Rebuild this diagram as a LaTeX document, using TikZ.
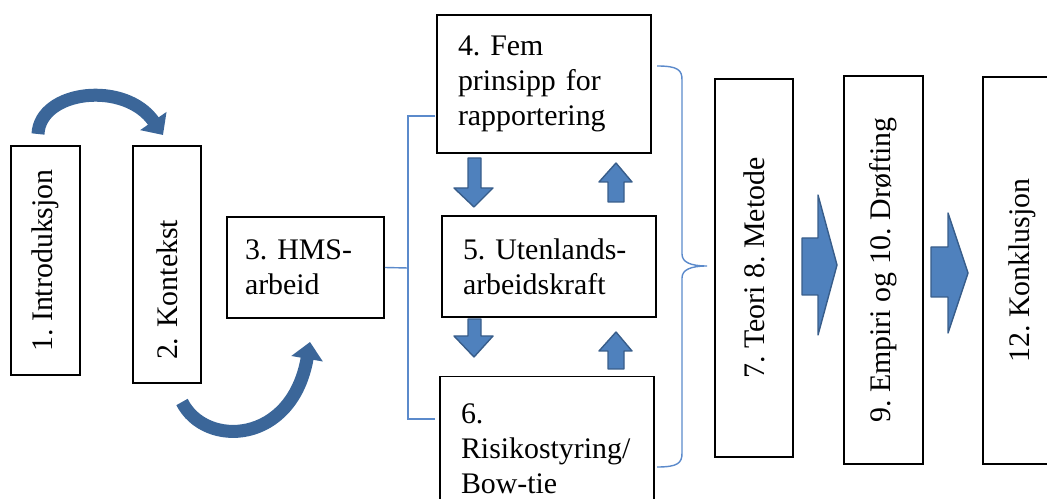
\documentclass[tikz,border=0pt]{standalone}
\usepackage{fontspec}
\setmainfont{Liberation Serif}
\usetikzlibrary{arrows.meta}
\definecolor{blkfill}{HTML}{4F81BD}
\definecolor{blkline}{HTML}{385D8A}
\definecolor{brk}{HTML}{5B8ACB}
\definecolor{bendc}{HTML}{3B6699}
\frenchspacing

\begin{document}
\begin{tikzpicture}[x=0.02cm,y=-0.02cm,
  box/.style={draw, line width=0.9pt, font=\fontsize{17}{20}\selectfont, inner ysep=0pt},
  vbox/.style={box, rotate=90, minimum height=1.56cm},
  hbox/.style={box, align=left, minimum width=4.28cm, inner xsep=0.42cm, text width=3.44cm},
  bracket/.style={draw=brk, line width=0.8pt},
  blk/.style={fill=blkfill, draw=blkline, line width=0.8pt, line join=round},
  curvearrow/.style={draw=bendc, line width=0.26cm, -{Triangle[length=0.34cm, width=0.62cm]}}]
  \useasboundingbox (0,0) rectangle (1047,499);
  \node[vbox, minimum width=4.58cm, minimum height=1.38cm] (intro) at (45.5,260.5) {1. Introduksjon};
  \node[vbox, minimum width=4.74cm, minimum height=1.36cm, align=left, text width=3.82cm, inner xsep=0.46cm] (kontekst) at (167,264.5) {2. Kontekst};
  \node[box, align=left, minimum width=3.14cm, minimum height=2.02cm, inner xsep=0.36cm, text width=2.42cm] (hms) at (305.5,267.5) {3. HMS-\\arbeid};
  \node[hbox, minimum height=2.76cm] (fem) at (544,84) {4. Fem\\prinsipp for\\rapportering};
  \node[hbox, minimum height=2.02cm] (utl) at (549,266.5) {5. Utenlands-\\arbeidskraft};
  \node[hbox, minimum height=2.9cm] (risiko) at (547,449) {6.\\Risikostyring/\\Bow-tie};
  \node[vbox, minimum width=7.56cm] (teori) at (754,268) {7. Teori 8. Metode};
  \node[vbox, minimum width=7.76cm, minimum height=1.58cm] (empiri) at (883.5,270) {9. Empiri og 10. Drøfting};
  \node[vbox, minimum width=7.74cm, minimum height=1.58cm] (konkl) at (1022.5,270.5) {12. Konklusjon};
  \coordinate (c1s) at (38,134); \coordinate (c1e) at (163,135);
  \coordinate (c2s) at (182,402); \coordinate (c2e) at (310,342);
  \draw[curvearrow] (c1s) .. controls (40,90) and (125,80) .. (c1e);
  \draw[curvearrow] (c2s) .. controls (205,448) and (292,445) .. (c2e);
  \coordinate (lb) at (408,268); \coordinate (lt) at (435,116); \coordinate (lbb) at (435,419);
  \draw[bracket] (hms.east) -- (lb);
  \draw[bracket] (lt) -- (408,116) -- (408,419) -- (lbb);
  \coordinate (rt) at (657,66); \coordinate (rb) at (657,467); \coordinate (rm) at (707,266);
  \draw[bracket] (rt) .. controls (678,66) and (682,70) .. (682,80) -- (682,254) .. controls (682,262) and (690,266) .. (rm)
    .. controls (690,266) and (682,270) .. (682,278) -- (682,453) .. controls (682,463) and (678,467) .. (rb);
  \draw[blk] (468,158) -- (481,158) -- (481,188) -- (493,188) -- (474,207) -- (454,188) -- (468,188) -- cycle;
  \draw[blk] (468,319) -- (481,319) -- (481,336) -- (493,336) -- (474,357) -- (454,336) -- (468,336) -- cycle;
  \draw[blk] (608,202) -- (624,202) -- (624,182) -- (632,182) -- (616,163) -- (599,182) -- (608,182) -- cycle;
  \draw[blk] (608,369) -- (624,369) -- (624,351) -- (632,351) -- (616,332) -- (599,351) -- (608,351) -- cycle;
  \draw[blk] (802,238) -- (818,238) -- (818,195) -- (837,265) -- (818,335) -- (818,295) -- (802,295) -- cycle;
  \draw[blk] (931,247) -- (948,247) -- (948,213) -- (968,273) -- (948,333) -- (948,297) -- (931,297) -- cycle;
\end{tikzpicture}
\end{document}
